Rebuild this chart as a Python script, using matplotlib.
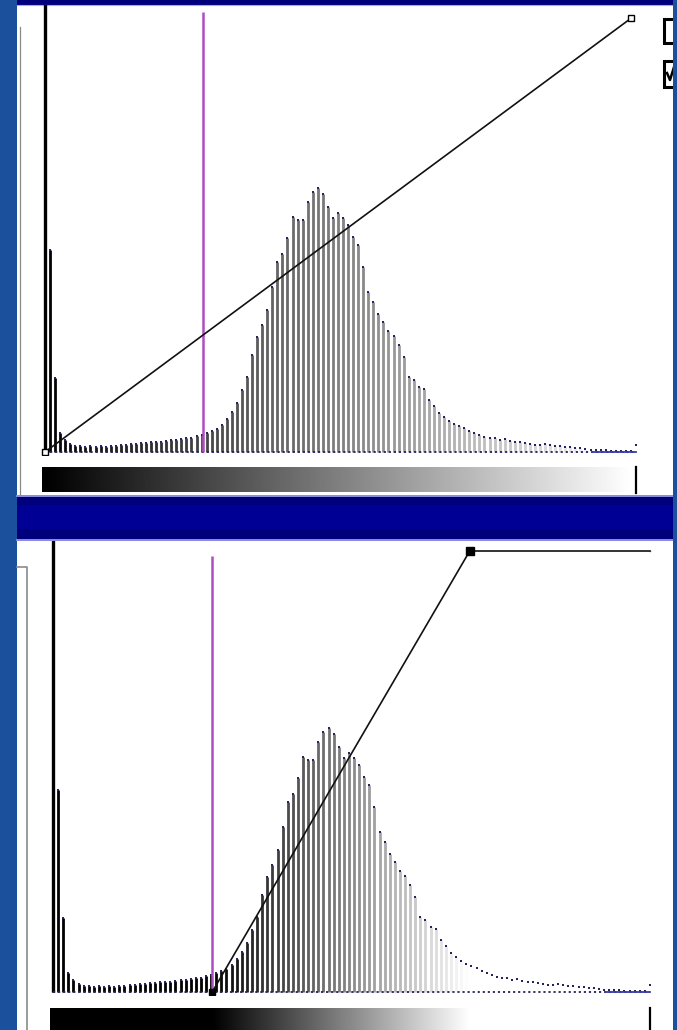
import numpy as np
import matplotlib
matplotlib.use("Agg")
import matplotlib.pyplot as plt
from matplotlib.patches import Rectangle

W, H = 677, 1030

# ---- data ----
# histogram bar heights (same histogram shown in both panels), bins spread evenly over gray levels 0..255
counts = [1000, 202, 74, 19, 12, 8, 6, 6, 5, 6, 5, 6, 5, 6, 6, 7, 7, 8, 8, 9,
          9, 10, 10, 10, 11, 12, 12, 13, 14, 14, 16, 17, 19, 21, 23, 27, 33, 40, 49, 62,
          75, 97, 115, 127, 142, 165, 190, 198, 214, 235, 232, 232, 250, 260, 264, 258, 245, 234, 239, 234,
          227, 215, 207, 185, 160, 150, 138, 130, 121, 116, 107, 95, 75, 72, 65, 63, 52, 46, 39, 35,
          31, 28, 26, 24, 21, 19, 17, 15, 14, 14, 12, 13, 11, 10, 10, 9, 8, 7, 7, 8,
          7, 6, 6, 5, 5, 4, 4, 3, 2, 2, 2, 2, 1, 1, 1, 1, 1, 7]
levels = np.linspace(0, 255, len(counts))

threshold_level = 68
# transfer functions (gray level -> output 0..1)
top_tf_levels = [0, 253]
top_tf_out = [0.0, 1.0]
low_tf_levels = [0, 68, 178, 255]
low_tf_out = [0.0, 0.0, 1.0, 1.0]

# ---- colors ----
BLUE_BG = "#1b519c"
NAVY = "#00007c"
NAVY_MID = "#000094"
EDGE = "#a6a6f2"
MAGENTA = "#b04cc4"
DOT = "#23235e"

fig = plt.figure(figsize=(W / 100, H / 100), dpi=100, facecolor=BLUE_BG)


def px_axes(x0, y0, x1, y1, z=1):
    ax = fig.add_axes([x0 / W, 1 - y1 / H, (x1 - x0) / W, (y1 - y0) / H], zorder=z)
    return ax


# background / UI layer in pixel coordinates
bg = px_axes(0, 0, W, H, z=0)
bg.set_xlim(0, W)
bg.set_ylim(H, 0)
bg.axis("off")
bg.patch.set_alpha(0)

bg.add_patch(Rectangle((17, 5), 656, 490, fc="white", ec="none"))
bg.add_patch(Rectangle((17, 541), 656, 489, fc="white", ec="none"))
bg.add_patch(Rectangle((17, 0), 656, 5, fc=NAVY, ec="none"))
bg.plot([17, 673], [4.5, 4.5], color=EDGE, lw=0.8)
bg.add_patch(Rectangle((17, 495), 656, 46, fc=NAVY, ec="none"))
bg.add_patch(Rectangle((17, 505), 656, 24, fc=NAVY_MID, ec="none"))
bg.plot([17, 673], [496, 496], color=EDGE, lw=1.2)
bg.plot([17, 673], [540, 540], color=EDGE, lw=1.2)

# window frame lines
bg.plot([20, 20], [27, 495], color="#8a8a8a", lw=0.9)
bg.plot([17, 27, 27], [567, 567, 1030], color="#8a8a8a", lw=1.2)


def tf(lv, xs, ys):
    return np.interp(lv, xs, ys)


# gradient bars
TOP_X0, TOP_X1 = 45, 636
LOW_X0, LOW_X1 = 53, 650
gx = np.arange(42, 637)
glev = (gx - TOP_X0) * 255 / (TOP_X1 - TOP_X0)
bg.imshow(tf(glev, top_tf_levels, top_tf_out)[None, :], cmap="gray", vmin=0, vmax=1,
          extent=[42, 636, 492, 467], aspect="auto", interpolation="bilinear", zorder=2)
gx2 = np.arange(50, 651)
glev2 = (gx2 - LOW_X0) * 255 / (LOW_X1 - LOW_X0)
bg.imshow(tf(glev2, low_tf_levels, low_tf_out)[None, :], cmap="gray", vmin=0, vmax=1,
          extent=[50, 650, 1030, 1008], aspect="auto", interpolation="bilinear", zorder=2)
bg.plot([636, 636], [467, 493], color="black", lw=1.6, zorder=3)
bg.plot([650, 650], [1008, 1030], color="black", lw=1.6, zorder=3)
bg.set_xlim(0, W)
bg.set_ylim(H, 0)

# checkboxes (partially cut by the right edge)
bg.add_patch(Rectangle((664, 19), 14, 24, fc="white", ec="black", lw=2.2, zorder=3))
bg.add_patch(Rectangle((664, 61), 14, 26, fc="white", ec="black", lw=2.2, zorder=3))
bg.plot([667, 670, 674], [73, 80, 67], color="black", lw=1.8, zorder=4)
bg.add_patch(Rectangle((673, 0), 4, H, fc=BLUE_BG, ec="none", zorder=5))


def draw_hist(ax, tf_levels, tf_out, tf_height, magenta_top, tf_start, marker_style):
    g = tf(levels, tf_levels, tf_out)
    cols = [(v, v, v) for v in g]
    ax.vlines(levels, 0, counts, colors=cols, lw=2.0, zorder=2)
    ax.vlines(levels[0], 0, counts[0], colors="black", lw=2.4, zorder=2)
    ax.scatter(levels[1:], counts[1:], marker="s", s=3.0, color=DOT, lw=0, zorder=3)
    ax.plot([0, 255], [0, 0], ls=(0, (1.2, 1.6)), color=DOT, lw=1.3, zorder=3)
    ax.plot([236, 255], [0, 0], color="#3a3ab0", lw=1.3, zorder=3)
    ax.vlines(threshold_level, 0, magenta_top, colors=MAGENTA, lw=1.8, zorder=4)
    xs = [l for l in tf_levels if l >= tf_start]
    ys = [tf(l, tf_levels, tf_out) * tf_height for l in xs]
    ax.plot(xs, ys, color="#111111", lw=1.2, zorder=5)
    for (lx, ly), (ms, fc) in zip(zip(xs, ys), marker_style):
        ax.plot([lx], [ly], marker="s", ms=ms, mfc=fc, mec="black", mew=1.0, zorder=6)


# top histogram
ax1 = px_axes(40, 5, 641, 455)
ax1.set_xlim((40 - TOP_X0) * 255 / (TOP_X1 - TOP_X0), (641 - TOP_X0) * 255 / (TOP_X1 - TOP_X0))
ax1.set_ylim(-3, 447)
ax1.axis("off")
ax1.patch.set_alpha(0)
draw_hist(ax1, top_tf_levels, top_tf_out, 434, 440, 0, [(4, "white"), (4, "white")])

# lower histogram
ax2 = px_axes(48, 541, 655, 995)
ax2.set_xlim((48 - LOW_X0) * 255 / (LOW_X1 - LOW_X0), (655 - LOW_X0) * 255 / (LOW_X1 - LOW_X0))
ax2.set_ylim(-3, 451)
ax2.axis("off")
ax2.patch.set_alpha(0)
draw_hist(ax2, low_tf_levels, low_tf_out, 441, 436, 68,
          [(4, "black"), (6, "black"), (0.1, "black")])

fig.savefig("out.png", dpi=100, facecolor=BLUE_BG)
